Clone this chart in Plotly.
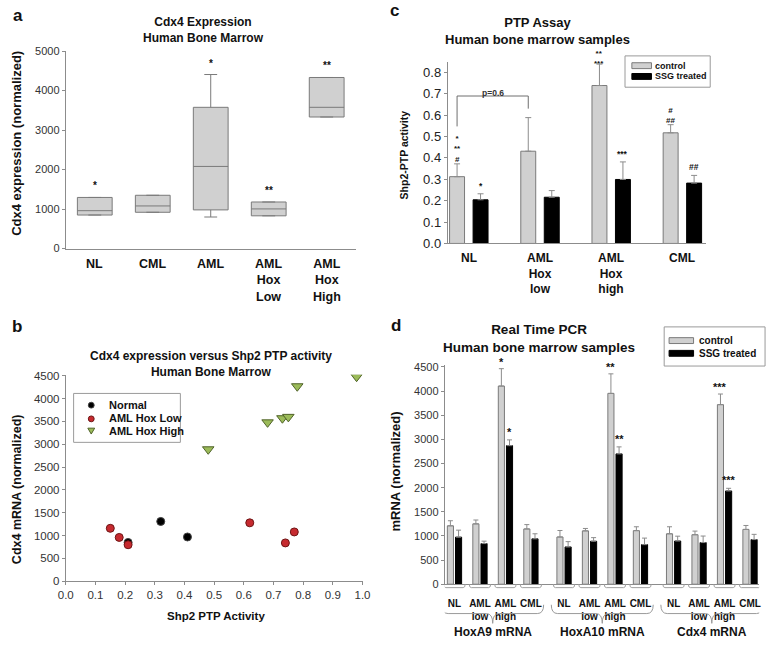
import plotly.graph_objects as go

W, H = 776, 647
FONT = "Arial, 'Liberation Sans', sans-serif"
GRAY = "#8c8c8c"
BOXFILL = "#d0d0d0"

# ---------------- Panel a: Cdx4 expression box plot ----------------
a_cats = ["NL", "CML", "AML", "AML Hox Low", "AML Hox High"]
a_labels = ["NL", "CML", "AML", "AML<br>Hox<br>Low", "AML<br>Hox<br>High"]
a_q1 = [850, 920, 980, 830, 3330]
a_median = [960, 1080, 2080, 1005, 3575]
a_q3 = [1295, 1350, 3575, 1180, 4330]
a_lowerfence = [850, 920, 800, 830, 3330]
a_upperfence = [1295, 1350, 4405, 1180, 4330]
a_sig = ["*", "", "*", "**", "**"]

# ---------------- Panel b: scatter ----------------
b_normal_x = [0.21, 0.32, 0.41]
b_normal_y = [850, 1310, 970]
b_low_x = [0.15, 0.18, 0.21, 0.62, 0.74, 0.77]
b_low_y = [1160, 960, 800, 1280, 840, 1080]
b_high_x = [0.48, 0.68, 0.73, 0.75, 0.78, 0.98]
b_high_y = [2890, 3480, 3570, 3600, 4270, 4480]
b_ticks_x = [0.0, 0.1, 0.2, 0.3, 0.4, 0.5, 0.6, 0.7, 0.8, 0.9, 1.0]

# ---------------- Panel c: PTP assay ----------------
c_labels = ["NL", "AML<br>Hox<br>low", "AML<br>Hox<br>high", "CML"]
c_control = [0.312, 0.431, 0.738, 0.517]
c_control_err = [0.060, 0.157, 0.100, 0.038]
c_ssg = [0.204, 0.216, 0.299, 0.282]
c_ssg_err = [0.028, 0.031, 0.082, 0.036]
# significance marks (top to bottom)
c_sig_control = ["*<br>**<br>#", "", "**<br>***", "#<br>##"]
c_sig_ssg = ["*", "", "***", "##"]

# ---------------- Panel d: Real time PCR ----------------
d_genes = ["HoxA9 mRNA", "HoxA10 mRNA", "Cdx4 mRNA"]
d_cats = ["NL", "AML<br>low", "AML<br>high", "CML"]
d_hoxa9_control = [1210, 1250, 4105, 1145]
d_hoxa9_control_err = [105, 80, 360, 90]
d_hoxa9_ssg = [975, 842, 2870, 940]
d_hoxa9_ssg_err = [145, 50, 120, 105]
d_hoxa10_control = [978, 1105, 3953, 1110]
d_hoxa10_control_err = [135, 50, 405, 80]
d_hoxa10_ssg = [772, 890, 2700, 820]
d_hoxa10_ssg_err = [110, 75, 145, 135]
d_cdx4_control = [1045, 1025, 3720, 1135]
d_cdx4_control_err = [145, 75, 220, 82]
d_cdx4_ssg = [895, 863, 1932, 925]
d_cdx4_ssg_err = [100, 135, 55, 108]
d_sig_control = ["*", "**", "***"]
d_sig_ssg = ["*", "**", "***"]


def px(x):
    return x / W


def py(y):
    return 1 - y / H


fig = go.Figure()

# ---- a ----
fig.add_trace(go.Box(
    x=a_cats, q1=a_q1, median=a_median, q3=a_q3,
    lowerfence=a_lowerfence, upperfence=a_upperfence,
    fillcolor=BOXFILL, line=dict(color="#7a7a7a", width=1),
    width=0.6, whiskerwidth=0.37, boxpoints=False,
    showlegend=False, xaxis="x", yaxis="y", hoverinfo="skip"))

# ---- b ----
fig.add_trace(go.Scatter(
    x=b_normal_x, y=b_normal_y, mode="markers", name="Normal",
    marker=dict(symbol="circle", size=8, color="#000000",
                line=dict(color="#444444", width=1)),
    showlegend=False, xaxis="x2", yaxis="y2"))
fig.add_trace(go.Scatter(
    x=b_low_x, y=b_low_y, mode="markers", name="AML Hox Low",
    marker=dict(symbol="circle", size=8, color="#c62a2f",
                line=dict(color="#6e1515", width=1)),
    showlegend=False, xaxis="x2", yaxis="y2"))
fig.add_trace(go.Scatter(
    x=b_high_x, y=b_high_y, mode="markers", name="AML Hox High",
    marker=dict(symbol="triangle-down", size=10, color="#9bbb59",
                line=dict(color="#4f6228", width=1)),
    showlegend=False, xaxis="x2", yaxis="y2"))

# ---- c ----
c_x = list(range(len(c_labels)))
fig.add_trace(go.Bar(
    x=c_x, y=c_control, offset=-0.27, width=0.21, name="control",
    marker=dict(color=BOXFILL, line=dict(color="#7a7a7a", width=1)),
    error_y=dict(type="data", symmetric=False, array=c_control_err,
                 arrayminus=[0] * len(c_x), color=GRAY, thickness=1, width=3),
    showlegend=False, xaxis="x3", yaxis="y3"))
fig.add_trace(go.Bar(
    x=c_x, y=c_ssg, offset=0.06, width=0.21, name="SSG treated",
    marker=dict(color="#000000", line=dict(color="#000000", width=1)),
    error_y=dict(type="data", symmetric=False, array=c_ssg_err,
                 arrayminus=[0] * len(c_x), color=GRAY, thickness=1, width=3),
    showlegend=False, xaxis="x3", yaxis="y3"))

# ---- d ----
GENE_STEP = 4.3
d_control_sets = [d_hoxa9_control, d_hoxa10_control, d_cdx4_control]
d_control_errs = [d_hoxa9_control_err, d_hoxa10_control_err, d_cdx4_control_err]
d_ssg_sets = [d_hoxa9_ssg, d_hoxa10_ssg, d_cdx4_ssg]
d_ssg_errs = [d_hoxa9_ssg_err, d_hoxa10_ssg_err, d_cdx4_ssg_err]
d_x, d_ctrl, d_ctrl_e, d_ssg, d_ssg_e, d_ticktext = [], [], [], [], [], []
for g in range(len(d_genes)):
    for c in range(len(d_cats)):
        d_x.append(g * GENE_STEP + c)
        d_ctrl.append(d_control_sets[g][c])
        d_ctrl_e.append(d_control_errs[g][c])
        d_ssg.append(d_ssg_sets[g][c])
        d_ssg_e.append(d_ssg_errs[g][c])
        d_ticktext.append(d_cats[c])

fig.add_trace(go.Bar(
    x=d_x, y=d_ctrl, offset=-0.28, width=0.24, name="control",
    marker=dict(color=BOXFILL, line=dict(color="#7a7a7a", width=1)),
    error_y=dict(type="data", symmetric=False, array=d_ctrl_e,
                 arrayminus=[0] * len(d_x), color=GRAY, thickness=1, width=2.5),
    showlegend=False, xaxis="x4", yaxis="y4"))
fig.add_trace(go.Bar(
    x=d_x, y=d_ssg, offset=0.04, width=0.24, name="SSG treated",
    marker=dict(color="#000000", line=dict(color="#000000", width=1)),
    error_y=dict(type="data", symmetric=False, array=d_ssg_e,
                 arrayminus=[0] * len(d_x), color=GRAY, thickness=1, width=2.5),
    showlegend=False, xaxis="x4", yaxis="y4"))

annotations = []
shapes = []


def ann(text, x, y, size, xref="paper", yref="paper", bold=True, xanchor="center",
        yanchor="middle", angle=0, yshift=0, color="#111111"):
    annotations.append(dict(
        text=(f"<b>{text}</b>" if bold else text), x=x, y=y, xref=xref, yref=yref,
        xanchor=xanchor, yanchor=yanchor, showarrow=False, textangle=angle,
        yshift=yshift, font=dict(family=FONT, size=size, color=color)))


# panel letters
ann("a", px(10), py(10), 17)
ann("b", px(9), py(328), 17)
ann("c", px(395), py(5), 17)
ann("d", px(396), py(327), 17)

# titles
ann("Cdx4 Expression<br>Human Bone Marrow", px(200), py(25), 12)
ann("Cdx4 expression versus Shp2 PTP activity<br>Human Bone Marrow", px(207), py(365.5), 12)
ann("PTP Assay<br>Human bone marrow samples", px(541), py(25.5), 13)
ann("Real Time PCR<br>Human bone marrow samples", px(542), py(340), 13.5)

# axis titles
ann("Cdx4 expression (normalized)", px(9), py(140), 13, angle=-90)
ann("Cdx4 mRNA (normalized)", px(9), py(494), 12.5, angle=-90)
ann("Shp2 PTP Activity", px(212), py(623), 11.5)
ann("Shp2-PTP activity", px(404), py(152), 10.5, angle=-90)
ann("mRNA (normalized)", px(396), py(476), 13, angle=-90)

# category labels of a and c
for cat, lab in zip(a_cats, a_labels):
    ann(lab, cat, py(254), 12.5, xref="x", yanchor="top")
for i, lab in enumerate(c_labels):
    ann(lab, i, py(248.5), 12, xref="x3", yanchor="top")

# a significance
for cat, top, s in zip(a_cats, a_upperfence, a_sig):
    if s:
        ann(s, cat, top, 10, xref="x", yref="y", yanchor="bottom", yshift=4)

# c significance
c_sig_shift = [-2, 0, -6, -2]
for i, s in enumerate(c_sig_control):
    if s:
        ann(s, i - 0.165, c_control[i] + c_control_err[i], 8, xref="x3", yref="y3",
            yanchor="bottom", yshift=c_sig_shift[i])
for i, s in enumerate(c_sig_ssg):
    if s:
        ann(s, i + 0.165, c_ssg[i] + c_ssg_err[i], 8.5, xref="x3", yref="y3",
            yanchor="bottom", yshift=1)

# c bracket and p-value
br_left, br_right = -0.165, 1 - 0.165
shapes.append(dict(type="path", xref="x3", yref="y3",
                   path=f"M {br_left},0.547 L {br_left},0.689 L {br_right},0.689 L {br_right},0.630",
                   line=dict(color="#6e6e6e", width=1)))
ann("p=0.6", (br_left + br_right) / 2, 0.689, 8.5, xref="x3", yref="y3", yshift=3,
    color="#333333")

# d significance (AML high groups)
for g in range(len(d_genes)):
    xc = g * GENE_STEP + 2
    ann(d_sig_control[g], xc - 0.16, d_control_sets[g][2] + d_control_errs[g][2], 11,
        xref="x4", yref="y4", yshift=7)
    ann(d_sig_ssg[g], xc + 0.16, d_ssg_sets[g][2] + d_ssg_errs[g][2], 11,
        xref="x4", yref="y4", yshift=8)

# d plates under each group
ya, yb = py(591), py(594.5)
for xv in d_x:
    xl, xr = xv - 0.42, xv + 0.42
    shapes.append(dict(type="path", xref="x4", yref="paper",
                       path=f"M {xl},{ya} Q {xl},{yb} {xl + 0.08},{yb} L {xr - 0.08},{yb} Q {xr},{yb} {xr},{ya}",
                       line=dict(color="#a0a0a0", width=1)))

# d braces and gene labels
ytop, ymid, ybot = py(612), py(621), py(631)
for g, gene in enumerate(d_genes):
    xl, xr = g * GENE_STEP - 0.5, g * GENE_STEP + 3.5
    xc = (xl + xr) / 2
    d = 0.25
    shapes.append(dict(type="path", xref="x4", yref="paper",
                       path=(f"M {xl},{ytop} Q {xl},{ymid} {xl + d},{ymid} L {xc - d},{ymid} "
                             f"Q {xc},{ymid} {xc},{ybot} Q {xc},{ymid} {xc + d},{ymid} "
                             f"L {xr - d},{ymid} Q {xr},{ymid} {xr},{ytop}"),
                       line=dict(color="#9a9a9a", width=1)))
    ann(gene, xc, py(640), 12, xref="x4")

# ---- manual legends ----
# b legend
shapes.append(dict(type="rect", xref="paper", yref="paper", x0=px(67), x1=px(176),
                   y0=py(446), y1=py(396), line=dict(color="#9a9a9a", width=1),
                   fillcolor="white", layer="below"))
shapes.append(dict(type="circle", xref="paper", yref="paper", x0=px(82), x1=px(88),
                   y0=py(411), y1=py(405), fillcolor="#000000", line=dict(color="#444", width=1)))
shapes.append(dict(type="circle", xref="paper", yref="paper", x0=px(82), x1=px(88),
                   y0=py(425), y1=py(419), fillcolor="#c62a2f", line=dict(color="#6e1515", width=1)))
shapes.append(dict(type="path", xref="paper", yref="paper",
                   path=f"M {px(81.5)},{py(431.5)} L {px(88.5)},{py(431.5)} L {px(85)},{py(437.5)} Z",
                   fillcolor="#9bbb59", line=dict(color="#4f6228", width=1)))
ann("Normal", px(101), py(408), 11, xanchor="left")
ann("AML Hox Low", px(101), py(421.5), 11, xanchor="left")
ann("AML Hox High", px(101), py(434.5), 11, xanchor="left")

# c legend
shapes.append(dict(type="rect", xref="paper", yref="paper", x0=px(630), x1=px(717),
                   y0=py(83), y1=py(51), line=dict(color="#9a9a9a", width=1),
                   fillcolor="white"))
shapes.append(dict(type="rect", xref="paper", yref="paper", x0=px(637), x1=px(657),
                   y0=py(64), y1=py(58), fillcolor=BOXFILL, line=dict(color="#7a7a7a", width=1)))
shapes.append(dict(type="rect", xref="paper", yref="paper", x0=px(637), x1=px(657),
                   y0=py(75), y1=py(69), fillcolor="#000000", line=dict(color="#000", width=1)))
ann("control", px(659), py(61), 9, xanchor="left")
ann("SSG treated", px(659), py(72), 9, xanchor="left")

# d legend
shapes.append(dict(type="rect", xref="paper", yref="paper", x0=px(670), x1=px(773),
                   y0=py(368), y1=py(328), line=dict(color="#9a9a9a", width=1),
                   fillcolor="white"))
shapes.append(dict(type="rect", xref="paper", yref="paper", x0=px(675), x1=px(700),
                   y0=py(345), y1=py(339), fillcolor=BOXFILL, line=dict(color="#7a7a7a", width=1)))
shapes.append(dict(type="rect", xref="paper", yref="paper", x0=px(675), x1=px(700),
                   y0=py(358), y1=py(352), fillcolor="#000000", line=dict(color="#000", width=1)))
ann("control", px(704), py(342), 10, xanchor="left")
ann("SSG treated", px(704), py(355), 10, xanchor="left")

tickfont_num = dict(family=FONT, size=11, color="#333333")
axis_common = dict(showline=True, linecolor=GRAY, linewidth=1, showgrid=False,
                   zeroline=False, mirror=False)

fig.update_layout(
    width=W, height=H, margin=dict(l=0, r=0, t=0, b=0),
    paper_bgcolor="white", plot_bgcolor="white",
    barmode="overlay", showlegend=False,
    font=dict(family=FONT),
    xaxis=dict(domain=[px(59), px(355)], anchor="y", type="category",
               range=[-0.5, 4.5], showticklabels=False, ticks="", **axis_common),
    yaxis=dict(domain=[py(248), py(46)], anchor="x", range=[0, 5000], dtick=1000,
               ticks="outside", ticklen=3, tickcolor=GRAY, tickfont=tickfont_num,
               **axis_common),
    xaxis2=dict(domain=[px(59), px(362)], anchor="y2", range=[0, 1],
                tickvals=b_ticks_x, tickformat=".1f", ticks="outside", ticklen=3,
                tickcolor=GRAY, tickfont=dict(family=FONT, size=11.5, color="#333333"),
                **axis_common),
    yaxis2=dict(domain=[py(588), py(377)], anchor="x2", range=[0, 4520], dtick=500,
                ticks="outside", ticklen=3, tickcolor=GRAY,
                tickfont=dict(family=FONT, size=11.5, color="#333333"), **axis_common),
    xaxis3=dict(domain=[px(449), px(713)], anchor="y3", range=[-0.296, 3.336],
                tickvals=c_x, showticklabels=False, ticks="", **axis_common),
    yaxis3=dict(domain=[py(242.7), py(57)], anchor="x3", range=[0, 0.849], dtick=0.1,
                tickformat=".1f", ticks="outside", ticklen=3, tickcolor=GRAY,
                tickfont=dict(family=FONT, size=13, color="#222222"), **axis_common),
    xaxis4=dict(domain=[px(446), px(767)], anchor="y4", range=[-0.38, 11.96],
                tickvals=d_x, ticktext=d_ticktext, ticks="",
                tickfont=dict(family=FONT, size=10, color="#111111", weight="bold"),
                ticklabelstandoff=10, **axis_common),
    yaxis4=dict(domain=[py(591), py(367)], anchor="x4", range=[0, 4540], dtick=500,
                ticks="outside", ticklen=3, tickcolor=GRAY, tickfont=tickfont_num,
                **axis_common),
    annotations=annotations,
    shapes=shapes,
)

fig.write_html("out.html", config={"displayModeBar": False},
               post_script="document.body.style.margin='0px';")
